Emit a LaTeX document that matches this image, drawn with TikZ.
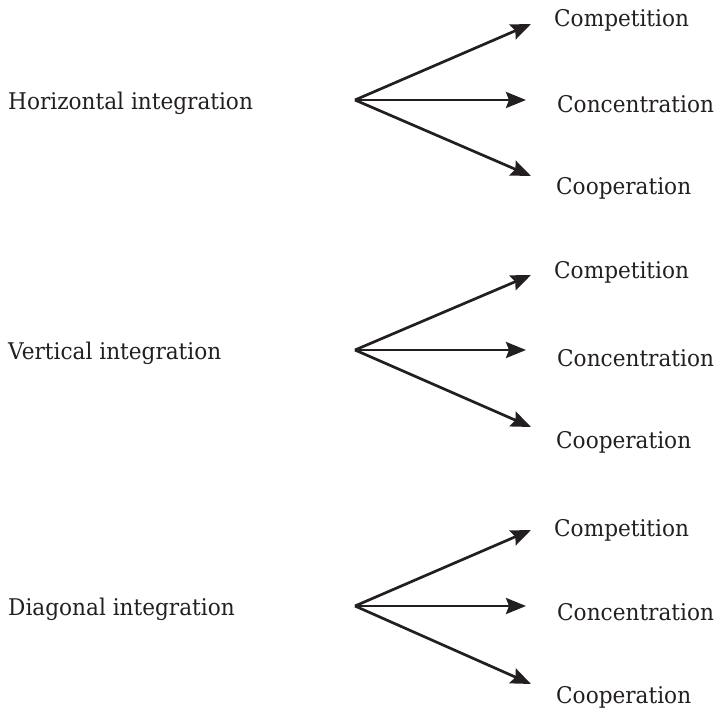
\documentclass[tikz,border=0pt]{standalone}
\usepackage{fontspec}
\usepackage{graphicx}
\setmainfont{DejaVu Serif}
\usetikzlibrary{arrows.meta}
\definecolor{ink}{HTML}{231F20}
\newcommand{\lbltext}[1]{\scalebox{0.94}[1]{#1}}
\begin{document}
\begin{tikzpicture}[x=1pt,y=-1pt,
  lbl/.style={anchor=west,inner sep=0pt,text=ink,font=\fontsize{23}{27}\selectfont},
  arr/.style={draw=ink,line width=2.7pt,-{Stealth[length=20pt,width=16pt,inset=3pt]}}]
\useasboundingbox (0,0) rectangle (716,714);
% one fan of three arrows per integration type
\foreach \n/\name/\ay/\ty/\my/\by/\lt/\lm/\lb in {
  h/Horizontal integration/100/24/100/176/20/104/188,
  v/Vertical integration/350/275/350/427/272/358/442,
  d/Diagonal integration/606/530/606/684/530/612/697}{
  \node[lbl] (\n) at (8,\ay+3) {\lbltext{\name}};
  \coordinate (\n0) at (355,\ay);
  \coordinate (\n1) at (531,\ty);
  \coordinate (\n2) at (526,\my);
  \coordinate (\n3) at (531,\by);
  \node[lbl] (\n a) at (554,\lt) {\lbltext{Competition}};
  \node[lbl] (\n b) at (557,\lm) {\lbltext{Concentration}};
  \node[lbl] (\n c) at (556,\lb) {\lbltext{Cooperation}};
  \draw[arr] (\n0) -- (\n1);
  \draw[arr] (\n0) -- (\n2);
  \draw[arr] (\n0) -- (\n3);
}
\end{tikzpicture}
\end{document}
